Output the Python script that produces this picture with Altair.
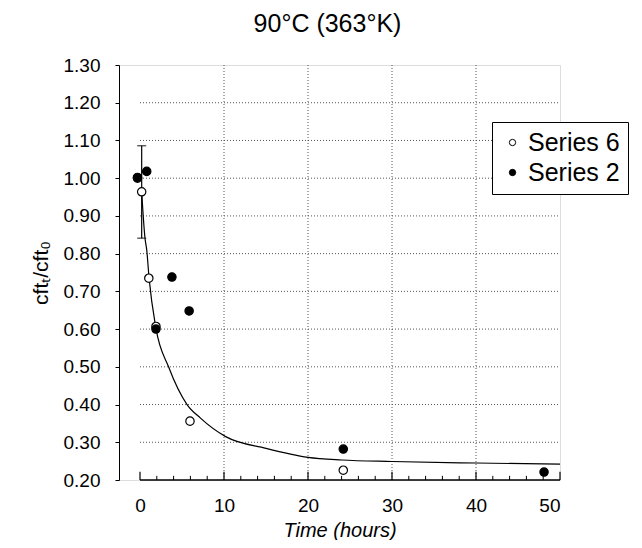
import altair as alt
import pandas as pd

# Series 6 (open circles)
s6_time = [-0.3, 0.2, 1.05, 1.9, 5.95, 24.2]
s6_val = [1.00, 0.964, 0.735, 0.607, 0.356, 0.226]
# Series 2 (filled circles)
s2_time = [-0.3, 0.8, 1.9, 3.8, 5.85, 24.2, 48.1]
s2_val = [1.002, 1.018, 0.600, 0.738, 0.648, 0.282, 0.221]
# error bar on Series 6
err_time = [0.2]
err_lo = [0.841]
err_hi = [1.086]
# fitted curve
fit_time = [0.2, 0.6, 0.8, 1.08, 1.9, 3.4, 5.6, 7.2, 10.2, 15, 20, 24, 30, 40, 50]
fit_val = [0.964, 0.84, 0.81, 0.735, 0.602, 0.50, 0.40, 0.364, 0.315, 0.284, 0.260, 0.253, 0.249, 0.245, 0.242]

y_ticks = [0.2, 0.3, 0.4, 0.5, 0.6, 0.7, 0.8, 0.9, 1.0, 1.1, 1.2, 1.3]
x_ticks = [0, 10, 20, 30, 40, 50]
x_minor = [2, 4, 6, 8, 12, 14, 16, 18, 22, 24, 26, 28, 32, 34, 36, 38, 42, 44, 46, 48]
grid_y = [0.3, 0.4, 0.5, 0.6, 0.7, 0.8, 0.9, 1.0, 1.1, 1.2]
grid_x = [10, 20, 30, 40]

FONT = "Liberation Sans"
XD = [-2.5, 50]
YD = [0.2, 1.3]

pts = pd.DataFrame({
    "time": s6_time + s2_time,
    "val": s6_val + s2_val,
    "series": ["Series 6"] * len(s6_time) + ["Series 2"] * len(s2_time),
})
fit = pd.DataFrame({"time": fit_time, "val": fit_val})
err = pd.DataFrame({"time": err_time, "lo": err_lo, "hi": err_hi})
gy = pd.DataFrame({"y": grid_y, "x0": [0] * len(grid_y), "x1": [50] * len(grid_y)})
gx = pd.DataFrame({"x": grid_x, "y0": [YD[0]] * len(grid_x), "y1": [YD[1]] * len(grid_x)})
xaxis_df = pd.DataFrame({"x0": [0], "x1": [50], "y": [YD[0]]})
maj = pd.DataFrame({"x": x_ticks, "y0": [0.2] * len(x_ticks), "y1": [0.222] * len(x_ticks)})
mnr = pd.DataFrame({"x": x_minor, "y0": [0.2] * len(x_minor), "y1": [0.211] * len(x_minor)})

xs = alt.Scale(domain=XD, nice=False, zero=False)
ys = alt.Scale(domain=YD, nice=False, zero=False)

xaxis = alt.Axis(values=x_ticks, title="Time (hours)", grid=False, domain=False, ticks=False,
                 labelFont=FONT, labelFontSize=19, labelColor="black", labelPadding=16,
                 labelOverlap=False,
                 titleFont=FONT, titleFontSize=20, titleFontStyle="italic", titleFontWeight="normal",
                 titleColor="black", titlePadding=5)
yaxis = alt.Axis(values=y_ticks, format=".2f", title="cftₜ/cft₀", grid=False, domain=True,
                 domainColor="black", tickColor="black", tickSize=4, labelOverlap=False,
                 labelFont=FONT, labelFontSize=19, labelColor="black", labelPadding=15,
                 titleFont=FONT, titleFontSize=21, titleFontWeight="normal", titleColor="black",
                 titlePadding=12)


def X(field):
    return alt.X(field, scale=xs, axis=xaxis)


def Y(field):
    return alt.Y(field, scale=ys, axis=yaxis)


curve = alt.Chart(fit).mark_line(color="black", strokeWidth=1.2, interpolate="monotone").encode(
    x=X("time:Q"), y=Y("val:Q"))

grid_h = alt.Chart(gy).mark_rule(color="#555", strokeDash=[1, 2], strokeWidth=1).encode(
    x=X("x0:Q"), x2="x1:Q", y=Y("y:Q"))
grid_v = alt.Chart(gx).mark_rule(color="#555", strokeDash=[1, 2], strokeWidth=1).encode(
    x=X("x:Q"), y=Y("y0:Q"), y2="y1:Q")
xline = alt.Chart(xaxis_df).mark_rule(color="black", strokeWidth=1.3).encode(
    x=X("x0:Q"), x2="x1:Q", y=Y("y:Q"))
tmaj = alt.Chart(maj).mark_rule(color="black", strokeWidth=1.2).encode(
    x=X("x:Q"), y=Y("y0:Q"), y2="y1:Q")
tmin = alt.Chart(mnr).mark_rule(color="black", strokeWidth=1).encode(
    x=X("x:Q"), y=Y("y0:Q"), y2="y1:Q")

ebar = alt.Chart(err).mark_rule(color="black", strokeWidth=1.2).encode(
    x=X("time:Q"), y=Y("lo:Q"), y2="hi:Q")
ecap_lo = alt.Chart(err).mark_tick(color="black", orient="horizontal", size=9, thickness=1.3).encode(
    x=X("time:Q"), y=Y("lo:Q"))
ecap_hi = alt.Chart(err).mark_tick(color="black", orient="horizontal", size=9, thickness=1.3).encode(
    x=X("time:Q"), y=Y("hi:Q"))

points = alt.Chart(pts).mark_point(shape="circle", size=70, stroke="black", strokeWidth=1.2,
                                   filled=True, opacity=1).encode(
    x=X("time:Q"), y=Y("val:Q"),
    fill=alt.Fill("series:N", sort=["Series 6", "Series 2"],
                  scale=alt.Scale(domain=["Series 6", "Series 2"], range=["white", "black"]),
                  legend=alt.Legend(title=None, orient="none", legendX=373, legendY=57,
                                    labelFont=FONT, labelFontSize=25, labelColor="black",
                                    symbolType="circle", symbolSize=40, symbolStrokeColor="black",
                                    symbolStrokeWidth=1, rowPadding=4, padding=8,
                                    strokeColor="black", fillColor="white", labelOffset=3)),
)

chart = alt.layer(grid_h, grid_v, xline, tmaj, tmin, curve, ebar, ecap_lo, ecap_hi, points).properties(
    width=441, height=415,
    title=alt.TitleParams("90°C (363°K)", font=FONT, fontSize=25, fontWeight="normal",
                          color="black", offset=19, dx=-12),
    autosize=alt.AutoSizeParams(type="none"),
    padding={"left": 111, "top": 57, "right": 74, "bottom": 60},
).configure_view(stroke=None).configure(background="white")

chart.save("out.html", embed_options={"renderer": "svg", "actions": False})
